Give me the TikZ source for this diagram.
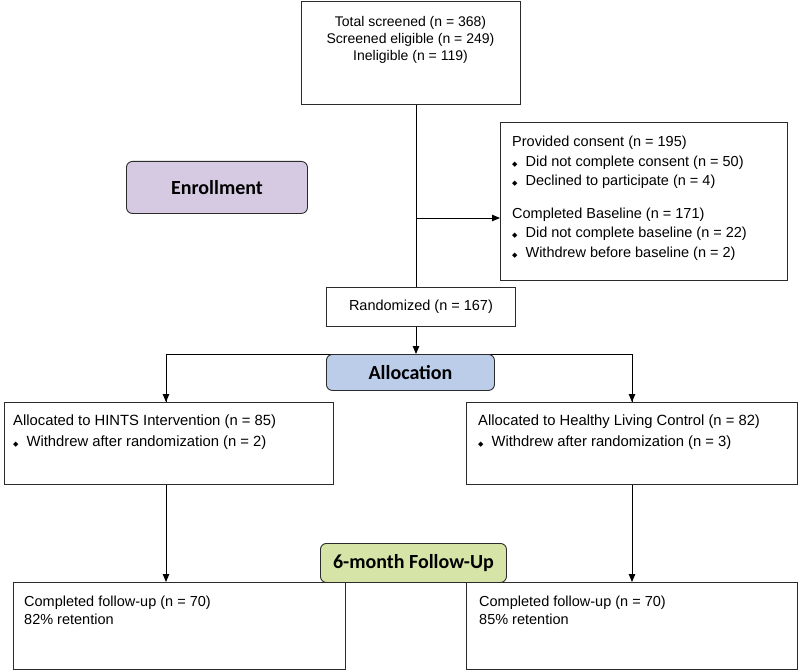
\documentclass[tikz,border=0pt]{standalone}
\usepackage{fontspec}
\setmainfont{Liberation Sans}
\newfontfamily\stagefont{Carlito}
\newfontfamily\dejavu{DejaVu Sans}
\usetikzlibrary{arrows.meta}
\newcommand{\bul}{{\dejavu\fontsize{7}{7}\selectfont ◆}\hspace{8pt}}
\definecolor{enrollc}{HTML}{D5CAE2}
\definecolor{allocc}{HTML}{BCCDEA}
\definecolor{followc}{HTML}{D7E4A8}
\definecolor{edgec}{HTML}{2B2B2B}
\tikzset{
  box/.style={draw=edgec, line width=0.9pt, fill=white, inner sep=0pt, anchor=north west},
  stage/.style={draw=edgec, line width=0.9pt, rounded corners=6pt, inner sep=0pt, anchor=north west,
     font=\stagefont\bfseries\fontsize{20}{24}\selectfont},
  txt/.style={inner sep=0pt, anchor=north west, align=left, font=\fontsize{14.5}{19.5}\selectfont},
  conn/.style={line width=0.9pt, draw=black},
  arr/.style={conn, -{Triangle[width=6.5pt,length=8pt]}}
}
\begin{document}
\begin{tikzpicture}[x=1pt,y=-1pt]
\useasboundingbox (0,0) rectangle (800,671);
% boxes
\node[box, minimum width=219pt, minimum height=103pt] (top) at (301,1) {};
\node[inner sep=0pt, align=center, font=\fontsize{14}{17}\selectfont, anchor=north] (toptxt) at (410.5,16) {Total screened (n = 368)\\Screened eligible (n = 249)\\Ineligible (n = 119)};
\node[box, minimum width=287pt, minimum height=158pt] (consent) at (500,122) {};
\node[txt] (consenttxt) at (512,136) {Provided consent (n = 195)\\
\bul Did not complete consent (n = 50)\\
\bul Declined to participate (n = 4)\\[13pt]
Completed Baseline (n = 171)\\
\bul Did not complete baseline (n = 22)\\
\bul Withdrew before baseline (n = 2)};
\node[stage, fill=enrollc, minimum width=181pt, minimum height=52pt] (enroll) at (126,161) {Enrollment};
\node[box, minimum width=189pt, minimum height=39pt, font=\fontsize{14.5}{16}\selectfont] (rand) at (326,287) {Randomized (n = 167)};
% connectors of the enrollment stage
\coordinate (spine) at (416,218);
\draw[conn] (top.south -| spine) -- (rand.north -| spine);
\draw[arr] (spine) -- (consent.west |- spine);
% allocation
\coordinate (splitL) at (166,354);
\coordinate (splitR) at (632,354);
\node[box, minimum width=329pt, minimum height=82pt] (left) at (4,402) {};
\node[box, minimum width=331pt, minimum height=82pt] (right) at (466,402) {};
\draw[conn] (left.north -| splitL) -- (splitL) -- (splitR) -- (right.north -| splitR);
\draw[arr] (splitL) -- (left.north -| splitL);
\draw[arr] (splitR) -- (right.north -| splitR);
\draw[arr] (rand.south -| spine) -- (spine |- splitL);
\node[stage, fill=allocc, minimum width=168pt, minimum height=36pt] (alloc) at (326,354) {Allocation};
\node[txt, font=\fontsize{14.8}{21}\selectfont] (lefttxt) at (13,415) {Allocated to HINTS Intervention (n = 85)\\\bul Withdrew after randomization (n = 2)};
\node[txt, font=\fontsize{14.8}{21}\selectfont] (righttxt) at (478,415) {Allocated to Healthy Living Control (n = 82)\\\bul Withdrew after randomization (n = 3)};
% follow-up
\node[box, minimum width=332pt, minimum height=87pt] (bl) at (12.5,582) {};
\node[box, minimum width=331pt, minimum height=87pt] (br) at (466,582) {};
\draw[arr] (left.south -| splitL) -- (bl.north -| splitL);
\draw[arr] (right.south -| splitR) -- (br.north -| splitR);
\node[stage, fill=followc, minimum width=186pt, minimum height=39pt] (follow) at (320,543) {6-month Follow-Up};
\node[txt, font=\fontsize{14.5}{18}\selectfont] (bltxt) at (24,596) {Completed follow-up (n = 70)\\82\% retention};
\node[txt, font=\fontsize{14.5}{18}\selectfont] (brtxt) at (479,596) {Completed follow-up (n = 70)\\85\% retention};
\end{tikzpicture}
\end{document}
